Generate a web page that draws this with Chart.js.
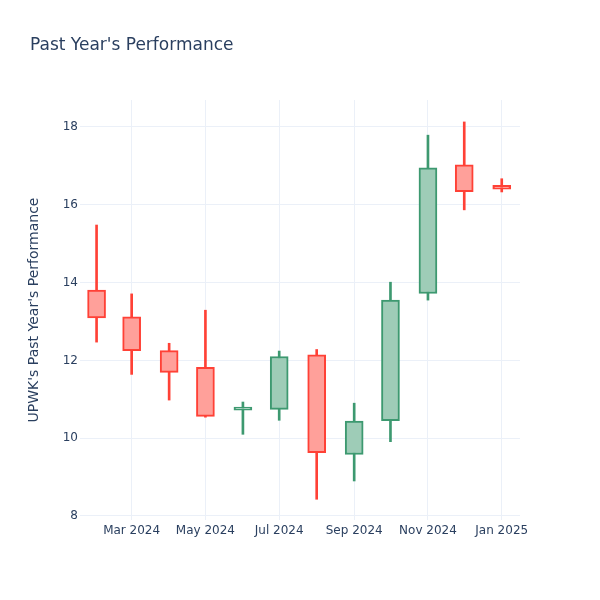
<!DOCTYPE html>
<html>
<head>
<meta charset="utf-8">
<script src="https://cdn.jsdelivr.net/npm/chart.js@4.4.1/dist/chart.umd.min.js"></script>
<style>
  body { margin: 0; background: #fff; }
  #wrap { position: relative; width: 600px; height: 600px; }
  #title {
    position: absolute; left: 30px; top: 34px;
    font-family: "DejaVu Sans", sans-serif; font-size: 17px; color: #2a3f5f;
    white-space: nowrap;
  }
</style>
</head>
<body>
<div id="wrap">
  <canvas id="stockChart" width="600" height="600"></canvas>
  <div id="title">Past Year's Performance</div>
</div>
<script>
// monthly candles (first of month)
var months = ["2024-02", "2024-03", "2024-04", "2024-05", "2024-06", "2024-07",
  "2024-08", "2024-09", "2024-10", "2024-11", "2024-12", "2025-01"];
var openVals = [13.81, 13.12, 12.25, 11.82, 10.72, 10.74, 12.14, 9.58, 10.45, 13.72, 17.03, 16.50];
var highVals = [15.48, 13.71, 12.44, 13.29, 10.93, 12.24, 12.28, 10.90, 14.01, 17.79, 18.13, 16.67];
var lowVals = [12.47, 11.64, 10.98, 10.54, 10.10, 10.46, 8.43, 8.90, 9.91, 13.55, 15.87, 16.33];
var closeVals = [13.09, 12.25, 11.69, 10.56, 10.75, 12.10, 9.63, 10.44, 13.55, 16.95, 16.34, 16.40];

var xTickDates = ["2024-03", "2024-05", "2024-07", "2024-09", "2024-11", "2025-01"];
var xTickLabels = ["Mar 2024", "May 2024", "Jul 2024", "Sep 2024", "Nov 2024", "Jan 2025"];
var yTicks = [8, 10, 12, 14, 16, 18];

var upLine = "#3D9970", downLine = "#FF4136";
var upFill = "#9ECCB7", downFill = "#FFA09A";
var textColor = "#2a3f5f", gridColor = "#ebf0f8";

function toDay(s) {
  var p = s.split("-");
  return Date.UTC(+p[0], +p[1] - 1, 1) / 86400000;
}

var xs = months.map(toDay);
var isUp = openVals.map(function (o, i) { return closeVals[i] >= o; });

var bodyData = xs.map(function (x, i) { return { x: x, y: [openVals[i], closeVals[i]] }; });
var wickData = xs.map(function (x, i) { return { x: x, y: [lowVals[i], highVals[i]] }; });

var ctx = document.getElementById("stockChart").getContext("2d");
var stockChart = new Chart(ctx, {
  type: "bar",
  data: {
    datasets: [
      {
        label: "body",
        data: bodyData,
        backgroundColor: isUp.map(function (u) { return u ? upFill : downFill; }),
        borderColor: isUp.map(function (u) { return u ? upLine : downLine; }),
        borderWidth: 2,
        borderSkipped: false,
        barThickness: 18,
        minBarLength: 3,
        grouped: false,
        order: 0,
      },
      {
        label: "wick",
        data: wickData,
        backgroundColor: isUp.map(function (u) { return u ? upLine : downLine; }),
        borderWidth: 0,
        barThickness: 2,
        grouped: false,
        order: 1,
      },
    ],
  },
  options: {
    responsive: false,
    animation: false,
    layout: { padding: { left: 22, right: 80, top: 100, bottom: 0 } },
    plugins: {
      legend: { display: false },
      tooltip: { enabled: false },
    },
    scales: {
      x: {
        type: "linear",
        offset: false,
        min: xs[0] - 13.7,
        max: xs[xs.length - 1] + 15.1,
        afterBuildTicks: function (scale) {
          scale.ticks = xTickDates.map(function (d) { return { value: toDay(d) }; });
        },
        afterFit: function (scale) { scale.height = 80; },
        ticks: {
          autoSkip: false,
          maxRotation: 0,
          padding: 4,
          color: textColor,
          font: { family: "DejaVu Sans", size: 12 },
          callback: function (v) {
            var i = xTickDates.map(toDay).indexOf(v);
            return i >= 0 ? xTickLabels[i] : "";
          },
        },
        grid: { color: gridColor, drawTicks: false, offset: false },
        border: { display: false },
      },
      y: {
        min: 7.897,
        max: 18.694,
        afterBuildTicks: function (scale) {
          scale.ticks = yTicks.map(function (v) { return { value: v }; });
        },
        afterFit: function (scale) { scale.width = 58; },
        ticks: {
          padding: 2,
          color: textColor,
          font: { family: "DejaVu Sans", size: 12 },
        },
        grid: { color: gridColor, drawTicks: false },
        border: { display: false },
        title: {
          display: true,
          text: "UPWK's Past Year's Performance",
          color: textColor,
          font: { family: "DejaVu Sans", size: 14 },
          padding: { top: 4, bottom: 0 },
        },
      },
    },
  },
});
</script>
</body>
</html>
